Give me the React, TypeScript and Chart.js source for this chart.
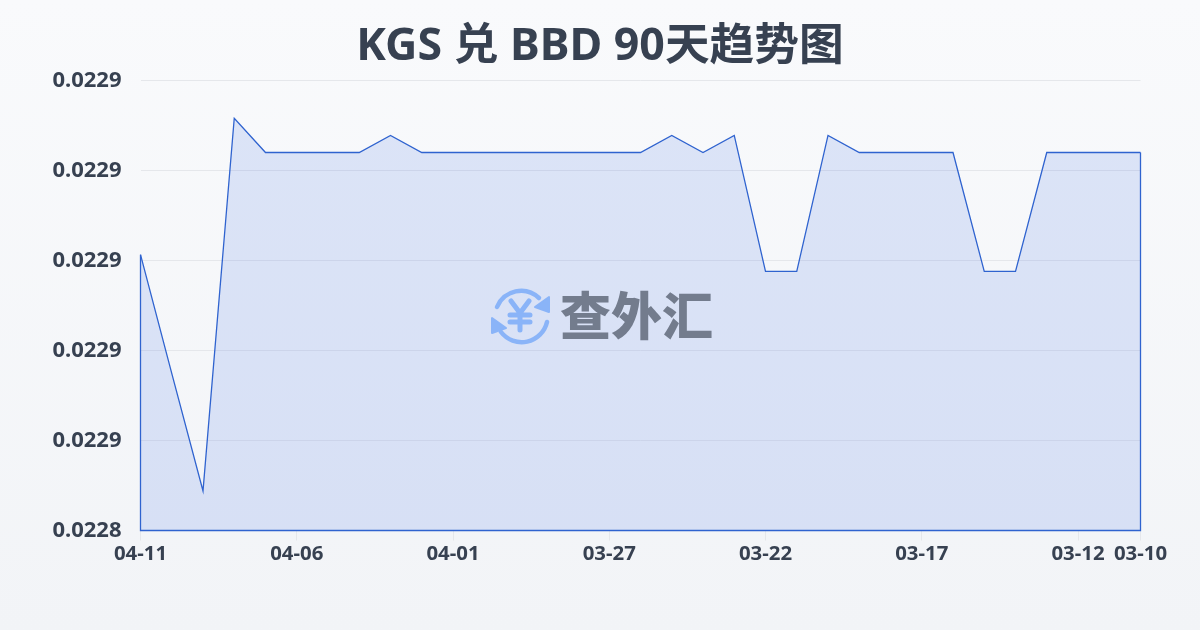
import React, { useEffect, useRef } from "react";
import { Chart, registerables } from "chart.js";

Chart.register(...registerables);

const dates = ["04-11","04-10","04-09","04-08","04-07","04-06","04-05","04-04","04-03","04-02","04-01","03-31","03-30","03-29","03-28","03-27","03-26","03-25","03-24","03-23","03-22","03-21","03-20","03-19","03-18","03-17","03-16","03-15","03-14","03-13","03-12","03-11","03-10"];
const rates = [0.0229013,0.0228749,0.0228488,0.0229316,0.0229240,0.0229240,0.0229240,0.0229240,0.0229278,0.0229240,0.0229240,0.0229240,0.0229240,0.0229240,0.0229240,0.0229240,0.0229240,0.0229278,0.0229240,0.0229278,0.0228976,0.0228976,0.0229278,0.0229240,0.0229240,0.0229240,0.0229240,0.0228976,0.0228976,0.0229240,0.0229240,0.0229240,0.0229240];
const shownDates = ["04-11","04-06","04-01","03-27","03-22","03-17","03-12","03-10"];
const axisMin = 0.02284;
const axisMax = 0.02294;
const tickStep = 0.00002;

const LINE = "#2f63cf";
const ICON = "#8ab4f8";
const FONT = '"Noto Sans", "Noto Sans CJK SC", sans-serif';

const edgePlugin = {
  id: "edges",
  afterDatasetsDraw(chart: any) {
    const { ctx, chartArea: a } = chart;
    const pts = chart.getDatasetMeta(0).data;
    ctx.save();
    ctx.strokeStyle = LINE;
    ctx.lineWidth = 1.3;
    ctx.beginPath();
    ctx.moveTo(a.left, pts[0].y);
    ctx.lineTo(a.left, a.bottom);
    ctx.lineTo(a.right, a.bottom);
    ctx.lineTo(a.right, pts[rates.length - 1].y);
    ctx.stroke();
    ctx.restore();
  },
};

export default function App() {
  const ref = useRef<HTMLCanvasElement>(null);
  useEffect(() => {
    document.body.style.margin = "0";
    const chart = new Chart(ref.current!, {
      type: "line",
      plugins: [edgePlugin],
      data: {
        labels: dates,
        datasets: [
          {
            data: rates,
            borderColor: LINE,
            borderWidth: 1.3,
            backgroundColor: "rgba(59,110,225,0.15)",
            fill: "origin",
            pointRadius: 0,
            tension: 0,
          },
        ],
      },
      options: {
        animation: false,
        responsive: false,
        layout: { padding: 0 },
        plugins: {
          legend: { display: false },
          tooltip: { enabled: false },
          title: {
            display: true,
            text: "KGS 兑 BBD 90天趋势图",
            color: "#374151",
            font: { family: FONT, size: 44.7, weight: "bold", lineHeight: 1.2 },
            padding: { top: 20, bottom: 6.86 },
          },
        },
        scales: {
          x: {
            offset: false,
            border: { display: false },
            grid: { display: true, drawOnChartArea: false, drawTicks: true, tickLength: 10, color: "#e5e7eb" },
            afterBuildTicks(axis: any) {
              axis.ticks = dates
                .map((d, i) => ({ value: i, label: d }))
                .filter((t) => shownDates.includes(t.label));
            },
            afterFit(axis: any) {
              axis.height = 99.5;
            },
            ticks: {
              autoSkip: false,
              maxRotation: 0,
              padding: 1,
              color: "#374151",
              font: { family: FONT, size: 20.4, weight: "bold" },
              callback(_: any, i: number) {
                return shownDates[i];
              },
            },
          },
          y: {
            min: axisMin,
            max: axisMax,
            border: { display: false },
            afterFit(axis: any) {
              axis.width = 140.5;
            },
            grid: { color: "#e5e7eb", drawTicks: false, lineWidth: 1 },
            ticks: {
              stepSize: tickStep,
              padding: 19,
              color: "#374151",
              font: { family: FONT, size: 22, weight: "bold" },
              callback(v: any) {
                return Number(v).toFixed(4);
              },
            },
          },
          rightGutter: {
            position: "right",
            display: true,
            border: { display: false },
            grid: { display: false },
            ticks: { display: false },
            afterFit(axis: any) {
              axis.width = 59.5;
            },
          },
        },
      },
    } as any);
    return () => chart.destroy();
  }, []);

  return (
    <div
      style={{
        position: "relative",
        width: 1200,
        height: 630,
        overflow: "hidden",
        background: "linear-gradient(180deg,#f9fafc 0%,#f2f4f7 100%)",
      }}
    >
      <canvas ref={ref} width={1200} height={630} style={{ display: "block" }} />
      <div
        style={{
          position: "absolute",
          left: 489,
          top: 285,
          display: "flex",
          alignItems: "center",
          pointerEvents: "none",
        }}
      >
        <svg width={62} height={60} viewBox="0 0 62 60" fill="none" stroke={ICON} strokeWidth={4.5} strokeLinecap="round" strokeLinejoin="round">
          <path d="M8 22 A26 26 0 0 1 50 13" />
          <path d="M58 37 A26 26 0 0 1 12 47" />
          <path d="M60 12 L60 27 L46 22 Z" fill={ICON} strokeWidth={2} />
          <path d="M3 33 L3 48 L17 43 Z" fill={ICON} strokeWidth={2} />
          <path d="M22 16 L31 28 L40 16 M21 30 H41 M21 37 H41 M31 28 V45" strokeWidth={5} />
        </svg>
        <span
          style={{
            marginLeft: 9,
            transform: "translateY(-2px)",
            fontFamily: '"Noto Sans CJK SC", sans-serif',
            fontWeight: 900,
            fontSize: 51,
            lineHeight: "60px",
            color: "#737c8d",
          }}
        >
          查外汇
        </span>
      </div>
    </div>
  );
}
